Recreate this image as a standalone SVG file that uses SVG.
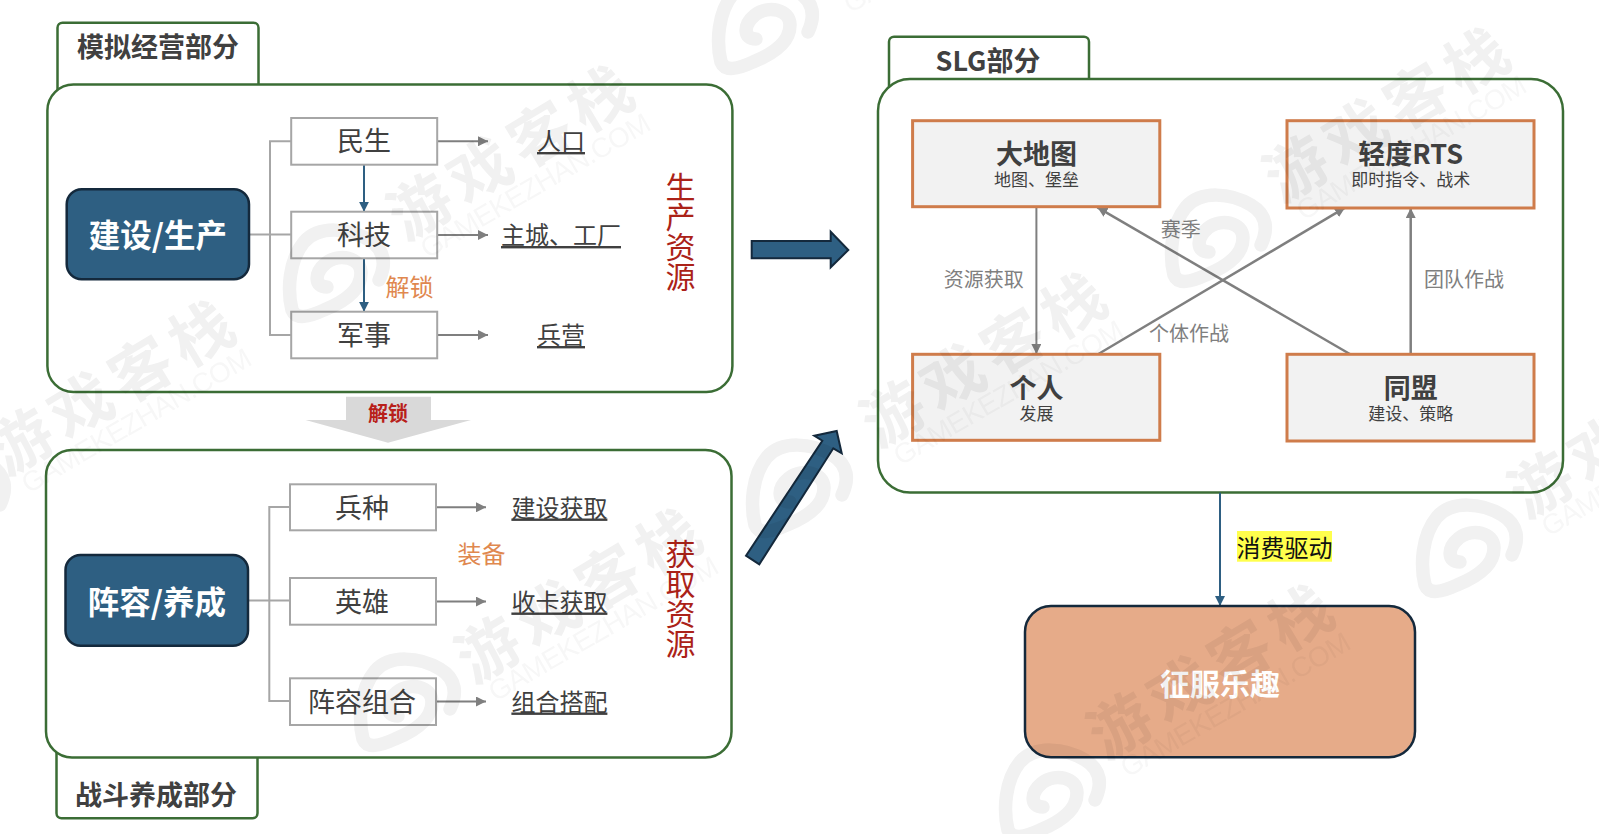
<svg xmlns="http://www.w3.org/2000/svg" width="1599" height="834" viewBox="0 0 1599 834">
<style>
text{font-family:"Noto Sans CJK SC","Microsoft YaHei",sans-serif;text-anchor:middle;dominant-baseline:central;transform:translateY(-1.5px)}
.panel{fill:#fff;stroke:#3b6d35;stroke-width:2.5}
.tabt{font-size:27px;font-weight:700;fill:#404040}
.main{fill:#2e5f82;stroke:#14293c;stroke-width:2.5}
.maint{font-size:31.5px;font-weight:700;fill:#fff}
.item{fill:#fff;stroke:#a6a6a6;stroke-width:2}
.itemt{font-size:27px;fill:#404040}
.res{font-size:24px;fill:#404040;text-decoration:underline}
.org{font-size:24px;fill:#e0884f}
.vert{font-size:30px;fill:#ab2218;writing-mode:vertical-rl;transform:none}
.card{fill:#f2f2f2;stroke:#cf7c4b;stroke-width:3}
.cardt{font-size:27px;font-weight:700;fill:#404040}
.cards{font-size:17px;fill:#404040}
.lab{font-size:20px;fill:#7f7f7f}
.g{fill:none;stroke:#a6a6a6;stroke-width:2}
.a{fill:none;stroke:#7f7f7f;stroke-width:2;marker-end:url(#ga)}
.a3{fill:none;stroke:#7f7f7f;stroke-width:2.5;marker-end:url(#ga)}
.b{fill:none;stroke:#2e5f82;stroke-width:2;marker-end:url(#ba)}
.big{fill:#2e5f82;stroke:#14293c;stroke-width:2}
.wm{font-size:62px;font-weight:700;fill:#000;letter-spacing:8px}
.wms{font-family:"Liberation Sans",sans-serif;font-size:28px;fill:#000;opacity:.6}
.logo{fill:none;stroke:#000;stroke-width:13.5;stroke-linecap:round;stroke-linejoin:round}
</style>
<defs>
<marker id="ga" markerUnits="userSpaceOnUse" viewBox="0 0 10 10" markerWidth="10" markerHeight="10" refX="10" refY="5" orient="auto"><path d="M0 0L10 5L0 10Z" fill="#7f7f7f"/></marker>
<marker id="ba" markerUnits="userSpaceOnUse" viewBox="0 0 10 10" markerWidth="10" markerHeight="10" refX="10" refY="5" orient="auto"><path d="M0 0L10 5L0 10Z" fill="#2e5f82"/></marker>
<path id="sw" class="logo" d="M45 5C52 -10 52 -25 35 -35C15 -47 -15 -50 -30 -33C-45 -15 -47 15 -42 35C-38 45 -25 42 -10 35C10 27 27 15 27 -2C27 -18 5 -22 -8 -12C-20 -2 -20 12 -7 12"/>
</defs>
<rect width="1599" height="834" fill="#fff"/>

<g id="panel-sim">
<rect class="panel" x="57.5" y="22.7" width="201" height="80" rx="5"/>
<rect class="panel" x="47.4" y="84.5" width="685" height="307.5" rx="26"/>
<text class="tabt" x="158" y="46.5">模拟经营部分</text>
</g>
<g id="panel-battle">
<rect class="panel" x="56.5" y="730" width="201" height="88.3" rx="5"/>
<rect class="panel" x="46" y="450" width="685.5" height="307.5" rx="26"/>
<text class="tabt" x="156" y="795">战斗养成部分</text>
</g>
<g id="panel-slg">
<rect class="panel" x="889" y="36.7" width="200" height="70" rx="5"/>
<rect class="panel" x="878" y="79" width="685" height="413.5" rx="32"/>
<text class="tabt" x="988" y="60.5">SLG部分</text>
</g>

<g id="connectors">
<path class="g" d="M249 234.5H291M291 141.3H270V335H291"/>
<path class="a" d="M437.3 141.3H488"/>
<path class="a" d="M437.3 235H488"/>
<path class="a" d="M437.3 335H488"/>
<path class="b" d="M364 164.7V211.7"/>
<path class="b" d="M364 258.3V311.7"/>
<path class="g" d="M248 600.5H290M290 507H269.3V701H290"/>
<path class="a" d="M436 507.3H486"/>
<path class="a" d="M436 601.6H486"/>
<path class="a" d="M436 701.5H486"/>
<path class="a" d="M1036.4 206.7V354"/>
<path class="a3" d="M1410.7 354V208"/>
<path class="a3" d="M1349.8 354L1097.4 207.3"/>
<path class="a3" d="M1098.4 354L1345 207.7"/>
<path class="b" d="M1220 492.7V606"/>
<path class="big" d="M751.7 241H830.7V231.7L848.3 250L830.7 267.3V258.3H751.7Z"/>
<path class="big" d="M746 555.7L822.3 440.7L814.3 435.7L836.7 431L841.7 453.3L833.3 448.3L759.3 564.3Z"/>
<path d="M346 396.7H431V420H471L388 442.7L305.5 420H346Z" fill="#d9d9d9"/>
</g>
<text x="388" y="414" font-size="20" font-weight="700" fill="#b8201a">解锁</text>
<text class="org" x="409.5" y="287">解锁</text>
<text class="org" x="481.6" y="554">装备</text>
<text class="vert" x="680.6" y="232">生产资源</text>
<text class="vert" x="680.6" y="599">获取资源</text>

<g id="build"><rect class="main" x="66.7" y="189.3" width="182.3" height="90" rx="15"/><text class="maint" x="157.8" y="234.5">建设/生产</text></g>
<g id="minsheng"><rect class="item" x="291.2" y="118" width="146" height="46.7"/><text class="itemt" x="364" y="141">民生</text></g>
<g id="tech"><rect class="item" x="291.2" y="211.7" width="146" height="46.6"/><text class="itemt" x="364" y="235">科技</text></g>
<g id="military"><rect class="item" x="291.2" y="311.7" width="146" height="46.6"/><text class="itemt" x="364" y="335">军事</text></g>
<g id="r-pop"><text class="res" x="561" y="141">人口</text></g>
<g id="r-city"><text class="res" x="561" y="235">主城、工厂</text></g>
<g id="r-barrack"><text class="res" x="561" y="335">兵营</text></g>

<g id="team"><rect class="main" x="65.5" y="555" width="182.5" height="90.7" rx="15"/><text class="maint" x="156.8" y="601">阵容/养成</text></g>
<g id="troop"><rect class="item" x="290" y="484.3" width="146" height="46"/><text class="itemt" x="362" y="507.5">兵种</text></g>
<g id="hero"><rect class="item" x="290" y="578" width="146" height="46.7"/><text class="itemt" x="362" y="601.5">英雄</text></g>
<g id="combo"><rect class="item" x="290" y="678.3" width="146" height="46.7"/><text class="itemt" x="362" y="701.5">阵容组合</text></g>
<g id="r-build"><text class="res" x="559.4" y="507.5">建设获取</text></g>
<g id="r-card"><text class="res" x="559.4" y="601.5">收卡获取</text></g>
<g id="r-match"><text class="res" x="559.4" y="701.5">组合搭配</text></g>

<g id="map"><rect class="card" x="912.6" y="120.7" width="247.2" height="86"/><text class="cardt" x="1036.4" y="154">大地图</text><text class="cards" x="1036.4" y="180">地图、堡垒</text></g>
<g id="rts"><rect class="card" x="1287" y="120.7" width="247" height="87.3"/><text class="cardt" x="1410.7" y="154">轻度RTS</text><text class="cards" x="1410.7" y="180">即时指令、战术</text></g>
<g id="person"><rect class="card" x="912.6" y="354.3" width="247.2" height="86"/><text class="cardt" x="1036.4" y="387.7">个人</text><text class="cards" x="1036.4" y="413.5">发展</text></g>
<g id="alliance"><rect class="card" x="1287" y="354.3" width="247" height="86.7"/><text class="cardt" x="1410.7" y="387.7">同盟</text><text class="cards" x="1410.7" y="413.5">建设、策略</text></g>
<text class="lab" x="983.8" y="280">资源获取</text>
<text class="lab" x="1464" y="280">团队作战</text>
<text class="lab" x="1180.8" y="230">赛季</text>
<text class="lab" x="1189" y="334">个体作战</text>

<g id="fun"><rect x="1025" y="606" width="390" height="151.3" rx="26" fill="#e6ab89" stroke="#14293c" stroke-width="2.5"/><text x="1220" y="683" font-size="30" font-weight="700" fill="#fff">征服乐趣</text></g>
<rect x="1237" y="531" width="95" height="30.7" fill="#ffff4d"/>
<text x="1284.5" y="548" font-size="24" fill="#111">消费驱动</text>

<g id="watermarks" opacity=".055">
<use href="#sw" x="763" y="27"/>
<use href="#sw" x="334" y="275"/>
<use href="#sw" x="1216" y="240"/>
<use href="#sw" x="797" y="490"/>
<use href="#sw" x="1467" y="550"/>
<use href="#sw" x="405" y="704"/>
<use href="#sw" x="1050" y="795"/>
<use href="#sw" x="-45" y="500"/>
<g transform="translate(113 383) rotate(-31)"><text class="wm">游戏客栈</text></g>
<g transform="translate(137 422) rotate(-30)"><text class="wms" textLength="260">GAMEKEZHAN.COM</text></g>
<g transform="translate(512 148) rotate(-31)"><text class="wm">游戏客栈</text></g>
<g transform="translate(536 187) rotate(-30)"><text class="wms" textLength="260">GAMEKEZHAN.COM</text></g>
<g transform="translate(985 355) rotate(-31)"><text class="wm">游戏客栈</text></g>
<g transform="translate(1009 394) rotate(-30)"><text class="wms" textLength="260">GAMEKEZHAN.COM</text></g>
<g transform="translate(1388 110) rotate(-31)"><text class="wm">游戏客栈</text></g>
<g transform="translate(1412 149) rotate(-30)"><text class="wms" textLength="260">GAMEKEZHAN.COM</text></g>
<g transform="translate(580 591) rotate(-31)"><text class="wm">游戏客栈</text></g>
<g transform="translate(604 630) rotate(-30)"><text class="wms" textLength="260">GAMEKEZHAN.COM</text></g>
<g transform="translate(1212 667) rotate(-31)"><text class="wm">游戏客栈</text></g>
<g transform="translate(1236 706) rotate(-30)"><text class="wms" textLength="260">GAMEKEZHAN.COM</text></g>
<g transform="translate(1633 426) rotate(-31)"><text class="wm">游戏客栈</text></g>
<g transform="translate(1657 465) rotate(-30)"><text class="wms" textLength="260">GAMEKEZHAN.COM</text></g>
<g transform="translate(959 -58) rotate(-30)"><text class="wms" textLength="260">GAMEKEZHAN.COM</text></g>
</g>
</svg>
